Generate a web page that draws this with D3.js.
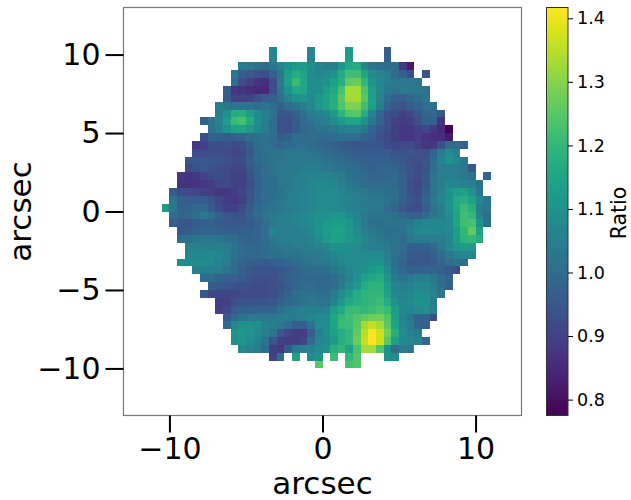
<!DOCTYPE html>
<html>
<head>
<meta charset="utf-8">
<script src="https://cdn.jsdelivr.net/npm/d3@7"></script>
<style>
    body { margin: 0; background: white; }
    text { font-family: "DejaVu Sans", sans-serif; }
</style>
</head>
<body>
<div id="chart"></div>
<script>
var n = null;

// first map column of each row, top row first (y = 10.5 going down, cells 0.5 arcsec, x from -10.5)
var rowStart = [14, 14, 10, 9, 9, 8, 8, 7, 7, 5, 6, 5, 4, 4, 3, 3, 2, 2, 1, 1, 0, 1, 1, 2, 2, 3, 3, 2, 4, 5, 6, 5, 7, 7, 8, 8, 9, 9, 10, 14, 20];

var ratioRows = [
    [1.07,n,n,n,n,1.07,n,n,n,n,1.12,n,n,n,n,.97],
    [1.07,n,n,n,n,1.07,n,n,n,n,1.13,n,n,n,n,.97],
    [1.04,1.04,1.02,1.0,1.03,1.07,1.1,1.12,1.12,1.09,1.06,1.04,1.05,1.11,1.16,1.17,1.07,1.02,1.0,1.0,1.0,.88,.82],
    [1.03,.97,.95,.94,.93,.97,1.03,1.13,1.17,1.15,1.08,1.07,1.08,1.1,1.17,1.22,1.22,1.15,1.08,1.06,1.04,1.0,.97,.93,n,.94],
    [1.0,.93,.9,.87,.86,.92,1.04,1.14,1.21,1.16,1.09,1.09,1.1,1.14,1.18,1.26,1.27,1.2,1.11,1.07,1.05,1.03,1.03,1.03,1.02],
    [.96,.88,.87,.86,.85,.85,.93,1.03,1.1,1.16,1.15,1.09,1.09,1.13,1.16,1.23,1.33,1.33,1.24,1.13,1.07,1.03,1.02,1.03,1.03,1.03,1.02],
    [.96,.9,.9,.9,.93,.96,.97,1.01,1.06,1.1,1.11,1.08,1.12,1.15,1.18,1.25,1.33,1.33,1.25,1.13,1.06,1.0,.97,.97,.99,1.0,1.02],
    [1.05,1.03,1.02,1.02,1.02,1.0,1.02,1.0,.97,1.0,1.02,1.05,1.07,1.12,1.15,1.18,1.24,1.29,1.29,1.22,1.14,1.05,.98,.95,.94,.96,.98,1.0,1.01],
    [1.05,1.1,1.17,1.18,1.13,1.08,1.05,1.02,.95,.95,.97,1.02,1.05,1.06,1.07,1.12,1.19,1.24,1.25,1.17,1.06,.99,.93,.92,.9,.92,.95,.98,.99,.95],
    [.97,1.02,1.06,1.13,1.21,1.23,1.17,1.09,1.05,1.0,.93,.93,.96,1.0,1.02,1.04,1.05,1.08,1.12,1.15,1.15,1.1,1.03,.98,.93,.9,.89,.9,.93,.97,.97,.87],
    [1.02,1.05,1.1,1.14,1.15,1.12,1.07,1.04,1.0,.94,.93,.96,.99,1.0,1.02,1.02,1.03,1.05,1.06,1.06,1.03,.98,.95,.93,.89,.88,.88,.9,.91,.88,.85,.78],
    [.93,.98,.97,.96,.97,.98,1.0,1.01,1.02,1.0,.96,.97,1.0,1.0,1.01,1.0,1.0,1.0,1.01,1.0,1.0,.98,.96,.93,.92,.89,.88,.88,.89,.87,.86,.86,.82],
    [.88,.9,.93,.93,.93,.92,.93,.97,1.0,1.01,1.0,.98,1.0,1.01,1.01,1.0,.99,.98,.97,.96,.95,.94,.95,.95,.94,.92,.91,.92,.92,.9,.88,.88,.93,1.0,1.0,.98],
    [.92,.92,.93,.93,.92,.91,.91,.95,.99,1.01,1.02,1.02,1.03,1.03,1.03,1.02,1.01,1.0,.99,.98,.97,.96,.96,.96,.96,.96,.94,.94,.94,.93,.93,.98,1.05,1.09,1.06],
    [.95,.95,.95,.95,.94,.93,.92,.93,.97,.99,1.01,1.02,1.03,1.03,1.03,1.03,1.03,1.03,1.02,1.01,1.0,.99,.98,.97,.97,.97,.97,.96,.95,.93,.93,.94,1.0,1.06,1.1,1.07,1.03],
    [.92,.94,.95,.94,.93,.92,.91,.91,.95,.98,1.0,1.02,1.03,1.03,1.03,1.04,1.04,1.04,1.03,1.02,1.02,1.0,1.0,.98,.97,.98,.99,.98,.96,.94,.92,.94,1.0,1.04,1.05,1.05,1.03,.95],
    [.88,.87,.88,.9,.92,.93,.92,.9,.9,.94,.98,1.0,1.01,1.03,1.03,1.04,1.05,1.06,1.06,1.06,1.05,1.04,1.02,1.0,1.0,.98,.98,.99,.99,.97,.94,.92,.95,1.02,1.05,1.05,1.05,1.03,1.02,n,.98],
    [.87,.87,.87,.88,.89,.91,.92,.9,.9,.93,.97,1.0,1.0,1.03,1.03,1.05,1.05,1.07,1.08,1.07,1.07,1.05,1.03,1.02,1.0,1.0,1.0,1.0,.99,.97,.93,.91,.95,1.02,1.05,1.07,1.07,1.06,1.05,1.02],
    [.96,.93,.92,.91,.9,.89,.88,.88,.89,.91,.94,.98,1.0,1.01,1.02,1.04,1.05,1.06,1.07,1.08,1.08,1.08,1.07,1.05,1.04,1.03,1.02,1.02,1.01,1.0,.97,.93,.92,.96,1.02,1.06,1.1,1.13,1.14,1.1,1.02],
    [1.02,.97,.96,.96,.96,.94,.91,.89,.88,.9,.94,.98,1.0,1.01,1.03,1.04,1.05,1.06,1.07,1.08,1.08,1.08,1.07,1.06,1.05,1.04,1.03,1.03,1.02,1.0,.97,.94,.93,.98,1.03,1.07,1.1,1.16,1.18,1.14,1.07,1.03],
    [1.12,1.03,.97,.98,.99,.99,.96,.92,.9,.9,.92,.96,.99,1.01,1.02,1.03,1.04,1.05,1.06,1.07,1.08,1.08,1.08,1.07,1.06,1.05,1.04,1.03,1.03,1.0,.98,.95,.93,.92,.97,1.02,1.05,1.1,1.16,1.21,1.18,1.05,1.03],
    [1.0,.98,.99,1.01,1.04,1.01,.97,.95,.94,.94,.97,1.0,1.02,1.03,1.04,1.05,1.06,1.07,1.08,1.1,1.1,1.11,1.11,1.08,1.06,1.03,1.02,1.02,1.02,1.01,.99,.97,.97,1.0,1.03,1.05,1.08,1.15,1.22,1.2,1.06,1.01],
    [.97,.95,.94,.96,.97,.97,.96,.95,.95,.95,.96,.98,1.0,1.03,1.05,1.05,1.06,1.07,1.08,1.1,1.12,1.13,1.13,1.11,1.07,1.03,1.01,1.01,1.02,1.02,1.02,1.03,1.06,1.07,1.07,1.07,1.08,1.15,1.22,1.23,1.1,1.01],
    [.95,.96,.97,.98,.98,.97,.97,.97,.97,.97,.98,1.0,1.06,1.05,1.05,1.05,1.06,1.07,1.1,1.13,1.14,1.14,1.12,1.08,1.05,1.03,1.02,1.01,1.01,1.02,1.05,1.07,1.08,1.07,1.07,1.08,1.13,1.2,1.26,1.14],
    [1.0,1.01,1.02,1.03,1.03,1.02,1.01,1.0,.98,.97,.98,1.0,1.03,1.04,1.05,1.05,1.05,1.06,1.09,1.12,1.14,1.14,1.12,1.1,1.07,1.05,1.03,1.02,1.01,1.0,1.03,1.04,1.04,1.04,1.04,1.07,1.13,1.19,1.2,1.17],
    [1.05,1.05,1.05,1.05,1.05,1.04,1.02,1.0,.99,.99,1.0,1.02,1.03,1.03,1.04,1.04,1.05,1.06,1.07,1.1,1.1,1.09,1.08,1.06,1.05,1.05,1.03,1.01,1.0,.97,.97,.97,.99,1.03,1.07,1.11,1.13,1.12],
    [1.07,1.07,1.07,1.08,1.07,1.05,1.02,1.0,.99,.99,1.0,1.01,1.01,1.02,1.02,1.03,1.03,1.03,1.05,1.07,1.08,1.08,1.08,1.08,1.08,1.08,1.05,1.01,.99,.96,.95,.95,.97,1.0,1.03,1.06,1.07,1.07],
    [1.09,1.08,1.08,1.08,1.08,1.06,1.04,1.0,.98,.97,.96,.96,.97,.98,.99,1.0,1.01,1.02,1.03,1.03,1.05,1.07,1.08,1.09,1.09,1.1,1.1,1.06,1.01,.98,.95,.95,.95,.96,.98,1.0,1.02,1.0],
    [1.05,1.05,1.05,1.04,1.02,1.0,.97,.95,.94,.94,.94,.95,.96,.98,1.0,1.0,1.0,1.01,1.03,1.05,1.07,1.09,1.1,1.12,1.14,1.08,1.02,.99,.97,.97,.98,.98,.97,.95,.93],
    [1.0,1.0,.98,.97,.97,.96,.94,.93,.93,.93,.95,.97,.98,.99,.99,.99,.99,1.0,1.03,1.06,1.1,1.14,1.16,1.17,1.11,1.04,1.02,1.03,1.05,1.05,1.03,1.0,.98],
    [.96,.95,.95,.94,.93,.93,.92,.92,.93,.94,.96,.98,1.0,1.0,.99,.99,1.0,1.04,1.08,1.12,1.17,1.19,1.19,1.13,1.06,1.05,1.06,1.07,1.07,1.05,1.01,.97],
    [.95,.91,.91,.91,.91,.92,.92,.92,.92,.93,.95,.98,1.0,1.02,1.02,1.01,1.0,1.04,1.08,1.13,1.17,1.19,1.2,1.2,1.14,1.07,1.06,1.07,1.09,1.09,1.06,1.02],
    [.89,.9,.93,.94,.94,.94,.94,.95,.97,.99,1.0,1.02,1.03,1.02,1.02,1.06,1.12,1.16,1.18,1.19,1.2,1.21,1.17,1.1,1.07,1.08,1.1,1.1,1.05],
    [.9,.92,.96,.97,.97,.98,.98,.98,1.0,1.03,1.04,1.05,1.05,1.05,1.06,1.13,1.16,1.21,1.21,1.2,1.21,1.23,1.21,1.13,1.07,1.07,1.08,1.09,1.06],
    [.96,.99,1.02,1.03,1.03,1.03,1.03,1.04,1.05,1.04,1.05,1.07,1.08,1.08,1.15,1.2,1.22,1.24,1.26,1.27,1.28,1.24,1.14,1.06,1.03,.98,.98,.93],
    [1.0,1.07,1.1,1.1,1.09,1.06,1.05,1.03,1.0,.97,.97,1.02,1.08,1.09,1.15,1.21,1.21,1.25,1.33,1.36,1.33,1.25,1.15,1.07,1.04,.98,.97],
    [1.1,1.12,1.11,1.08,1.05,1.02,.95,.91,.89,.89,.96,1.06,1.09,1.14,1.17,1.2,1.26,1.35,1.41,1.37,1.28,1.17,1.09,1.06,1.04],
    [1.1,1.11,1.09,1.06,1.02,.94,.9,.89,.89,.91,1.0,1.07,1.08,1.12,1.18,1.2,1.27,1.36,1.42,1.37,1.25,1.14,1.07,1.07,1.06,.98],
    [1.07,1.06,1.05,1.0,.89,.88,.96,1.03,1.05,1.06,1.08,1.1,1.18,1.2,1.14,1.23,1.33,1.33,1.24,1.1,1.0,1.04,1.03],
    [.9,1.0,n,1.14,n,1.08,1.1,n,1.21,n,1.2,1.24,n,n,n,1.1,1.08],
    [1.25,n,n,n,1.23,1.24]
];

var xTicks = [-10, 0, 10];
var yTicks = [-10, -5, 0, 5, 10];
var barTicks = [0.8, 0.9, 1.0, 1.1, 1.2, 1.3, 1.4];
var extent = [-13, 13];
var colorRange = [0.775, 1.417];
var cellSize = 0.5;
var firstX = -10.5;
var firstY = 10.5;

var x = d3.scaleLinear().domain(extent).range([123.5, 521.5]);
var y = d3.scaleLinear().domain(extent).range([415.5, 7.5]);
var barY = d3.scaleLinear().domain(colorRange).range([415.5, 7.5]);
var color = d3.scaleSequential(d3.interpolateViridis).domain(colorRange);

var svg = d3.select("#chart")
    .append("svg")
    .attr("width", 631)
    .attr("height", 500)
    .style("display", "block");

// flatten rows into cells
var cells = [];
ratioRows.forEach(function(row, r) {
    row.forEach(function(v, i) {
        if (v !== null) {
            cells.push({ col: rowStart[r] + i, row: r, value: v });
        }
    });
});

svg.selectAll(".cell")
    .data(cells)
    .enter()
    .append("rect")
    .attr("class", "cell")
    .attr("x", function(d) { return x(firstX + d.col * cellSize); })
    .attr("y", function(d) { return y(firstY - d.row * cellSize); })
    .attr("width", x(cellSize) - x(0))
    .attr("height", y(0) - y(cellSize))
    .attr("shape-rendering", "crispEdges")
    .attr("fill", function(d) { return color(d.value); });

// Frame
svg.append("rect")
    .attr("x", x(extent[0]))
    .attr("y", y(extent[1]))
    .attr("width", x(extent[1]) - x(extent[0]))
    .attr("height", y(extent[0]) - y(extent[1]))
    .attr("fill", "none")
    .attr("stroke", "#777")
    .attr("stroke-width", 1.2);

// Axes
var xAxis = svg.append("g")
    .attr("transform", "translate(0," + y(extent[0]) + ")")
    .call(d3.axisBottom(x).tickValues(xTicks).tickSize(17).tickPadding(5));
var yAxis = svg.append("g")
    .attr("transform", "translate(" + x(extent[0]) + ",0)")
    .call(d3.axisLeft(y).tickValues(yTicks).tickSize(18).tickPadding(5));

[xAxis, yAxis].forEach(function(axis) {
    axis.select(".domain").remove();
    axis.selectAll("line").attr("stroke", "black").attr("stroke-width", 2);
    axis.selectAll("text")
        .attr("fill", "black")
        .style("font-size", "30px")
        .style("font-family", '"DejaVu Sans", sans-serif');
});

svg.append("text")
    .attr("x", x(0))
    .attr("y", 494)
    .attr("text-anchor", "middle")
    .style("font-size", "31px")
    .text("arcsec");

svg.append("text")
    .attr("transform", "translate(31," + y(0) + ") rotate(-90)")
    .attr("text-anchor", "middle")
    .style("font-size", "31px")
    .text("arcsec");

// Colorbar
var gradient = svg.append("defs")
    .append("linearGradient")
    .attr("id", "bar")
    .attr("x1", 0).attr("y1", 1)
    .attr("x2", 0).attr("y2", 0);

gradient.selectAll("stop")
    .data(d3.range(0, 1.01, 0.05))
    .enter()
    .append("stop")
    .attr("offset", function(d) { return d; })
    .attr("stop-color", function(d) { return d3.interpolateViridis(d); });

svg.append("rect")
    .attr("x", 546.5)
    .attr("y", barY(colorRange[1]))
    .attr("width", 21.5)
    .attr("height", barY(colorRange[0]) - barY(colorRange[1]))
    .attr("fill", "url(#bar)")
    .attr("stroke", "#333")
    .attr("stroke-width", 1);

var barAxis = svg.append("g")
    .attr("transform", "translate(568,0)")
    .call(d3.axisRight(barY).tickValues(barTicks).tickFormat(d3.format(".1f")).tickSize(5).tickPadding(4));

barAxis.select(".domain").remove();
barAxis.selectAll("line").attr("stroke", "black");
barAxis.selectAll("text")
    .attr("fill", "black")
    .style("font-size", "17.5px")
    .style("font-family", '"DejaVu Sans", sans-serif');

svg.append("text")
    .attr("transform", "translate(625.5,213) rotate(-90)")
    .attr("text-anchor", "middle")
    .style("font-size", "20.5px")
    .text("Ratio");
</script>
</body>
</html>
